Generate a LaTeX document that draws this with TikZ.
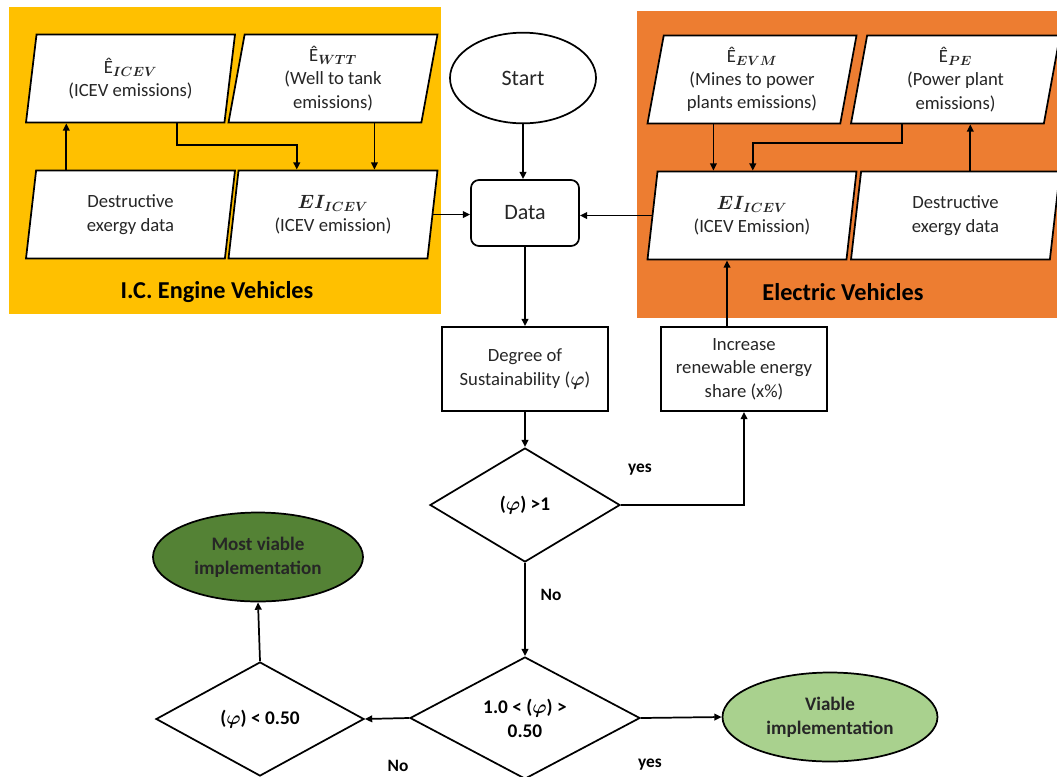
\documentclass[tikz,border=0pt]{standalone}
\usepackage{amsmath}
\usepackage{fontspec}
\setmainfont{Carlito}
\usetikzlibrary{shapes.geometric,arrows.meta,calc}
\definecolor{icey}{HTML}{FFC000}
\definecolor{evo}{HTML}{ED7D31}
\definecolor{dgreen}{HTML}{548235}
\definecolor{lgreen}{HTML}{A9D18E}
\definecolor{txt}{HTML}{262626}
\newcommand{\bsub}[1]{{\boldmath$_{#1}$}}
\begin{document}
\begin{tikzpicture}[x=0.75pt,y=-0.75pt,line width=1.3pt,
  arr/.style={-{Triangle[length=5.5pt,width=5pt]},line width=1.3pt},
  para/.style={trapezium,trapezium left angle=76.5,trapezium right angle=103.5,trapezium stretches body,draw,fill=white,minimum width=156.75pt,minimum height=66pt,inner sep=1pt,align=center,font=\fontsize{14}{17.5}\selectfont,text=txt},
  pbox/.style={draw,fill=white,minimum width=125pt,minimum height=63pt,align=center,font=\fontsize{14}{17.5}\selectfont,text=txt},
  dia/.style={diamond,draw,fill=white,inner sep=0pt,align=center,font=\bfseries\fontsize{14.5}{18}\selectfont},
  oval/.style={ellipse,draw,align=center,font=\bfseries\fontsize{14.3}{18}\selectfont,minimum height=66.75pt},
  lab/.style={font=\bfseries\fontsize{13}{15}\selectfont}]
\clip (0,0) rectangle (1057,776);
% panels
\fill[icey] (9,7) rectangle (441,314);
\fill[evo] (637,11) rectangle (1057,318);
\node[font=\bfseries\fontsize{18.2}{22}\selectfont] (icetitle) at (217,292) {I.C. Engine Vehicles};
\node[font=\bfseries\fontsize{18.2}{22}\selectfont] (evtitle) at (843,292) {Electric Vehicles};
% parallelograms
\node[para] (eicev) at (130.5,78.5) {Ê\bsub{ICEV}\\(ICEV emissions)};
\node[para] (ewtt) at (333,78.5) {Ê\bsub{WTT}\\(Well to tank\\emissions)};
\node[para] (dleft) at (130.5,214.5) {Destructive\\exergy data};
\node[para] (eileft) at (333,214.5) {{\boldmath$EI_{ICEV}$}\\(ICEV emission)};
\node[para] (eevm) at (752,79.5) {Ê\bsub{EVM}\\(Mines to power\\plants emissions)};
\node[para] (epe) at (955.5,79.5) {Ê\bsub{PE}\\(Power plant\\emissions)};
\node[para] (eiright) at (752,215.5) {{\boldmath$EI_{ICEV}$}\\(ICEV Emission)};
\node[para] (dright) at (955.5,215.5) {Destructive\\exergy data};
% centre column
\node[ellipse,draw,fill=white,minimum width=109.5pt,minimum height=68pt,font=\fontsize{16.5}{19}\selectfont,text=txt] (start) at (523,78) {Start};
\node[draw,fill=white,rounded corners=6pt,minimum width=81pt,minimum height=49.5pt,font=\fontsize{16.5}{19}\selectfont,text=txt] (data) at (525,213) {Data};
\node[pbox] (degree) at (525,369) {Degree of\\Sustainability ({\boldmath$\varphi$})};
\node[pbox] (incr) at (744,369) {Increase\\renewable energy\\share (x\%)};
\node[dia,minimum width=142.5pt,minimum height=85.5pt] (d1) at (525,505) {({\boldmath$\varphi$}) >1};
\node[dia,minimum width=172.5pt,minimum height=87pt] (d2) at (525,718) {1.0 < ({\boldmath$\varphi$}) >\\0.50};
\node[dia,minimum width=156pt,minimum height=85.5pt] (d3) at (260,719) {({\boldmath$\varphi$}) < 0.50};
\node[oval,fill=dgreen,minimum width=157.5pt,text=black!85] (most) at (258,557) {Most viable\\implementation};
\node[oval,fill=lgreen,minimum width=161.25pt,text=black!85] (viable) at (830,717) {Viable\\implementation};
% connectors, ICE panel
\draw[arr] ($(dleft.top left corner)+(31,0)$) coordinate (c1) -- (c1 |- eicev.south);
\draw[arr] ($(eicev.bottom left corner)+(152,0)$) |- ($(eileft.top left corner)+(59,-25)$) -- ($(eileft.top left corner)+(59,0)$);
\draw[arr] ($(ewtt.bottom left corner)+(147,0)$) coordinate (c2) -- (c2 |- eileft.north);
\draw[arr] (eileft.east) -- (eileft.east -| data.west);
% connectors, EV panel
\draw[arr] ($(eevm.bottom left corner)+(67,0)$) coordinate (c3) -- (c3 |- eiright.north);
\draw[arr] ($(epe.bottom left corner)+(52,0)$) |- ($(eiright.top left corner)+(96,-28)$) -- ($(eiright.top left corner)+(96,0)$);
\draw[arr] ($(dright.top left corner)+(110,0)$) coordinate (c4) -- (c4 |- epe.south);
\draw[arr] (eiright.west) -- (eiright.west -| data.east);
% flow
\draw[arr] (start.south) -- (start.south |- data.north);
\draw[arr] (data.south) -- (degree.north);
\draw[arr] (degree.south) -- (d1.north);
\draw[arr] (d1.east) -| (incr.south);
\draw[arr] ($(incr.north)+(-17,0)$) coordinate (c5) -- (c5 |- eiright.south);
\draw[arr] (d1.south) -- (d2.north);
\draw[arr] (d2.west) -- (d3.east);
\draw[arr] (d2.east) -- (viable.west);
\draw[arr] (d3.north) -- (most.south);
% labels
\node[lab] (lyes1) at (640,470) {yes};
\node[lab] (lno1) at (551,595) {No};
\node[lab] (lno2) at (398,766) {No};
\node[lab] (lyes2) at (650,765) {yes};
\end{tikzpicture}
\end{document}
